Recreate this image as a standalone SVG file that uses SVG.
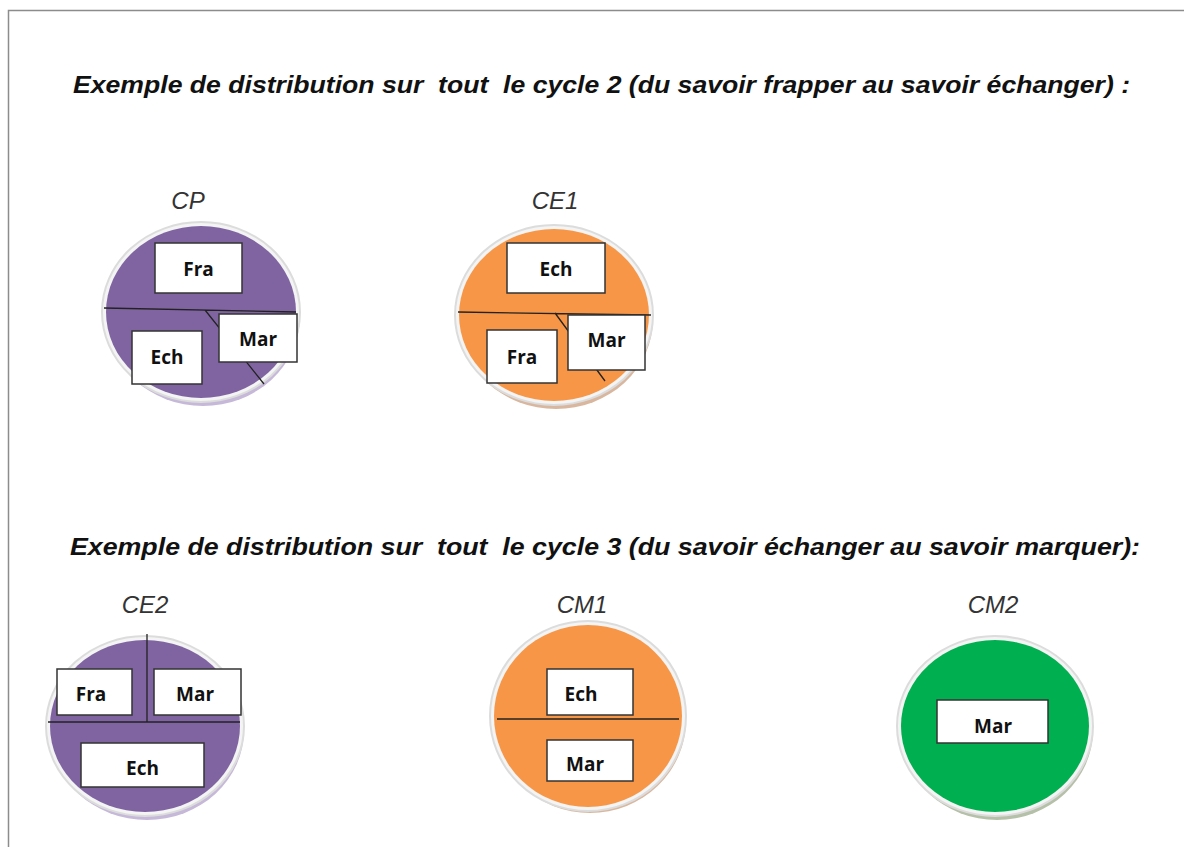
<svg xmlns="http://www.w3.org/2000/svg" width="1184" height="847" viewBox="0 0 1184 847">
  <style>
    .title { font-family: "Liberation Sans", Arial, sans-serif; font-size: 23px; font-weight: bold; font-style: italic; fill: #111; white-space: pre; }
    .lvl { font-family: "Liberation Sans", Arial, sans-serif; font-size: 24px; font-style: italic; fill: #333; text-anchor: middle; }
    .box { fill: #fff; stroke: #333; stroke-width: 1.5; }
    .lbl { font-family: "Open Sans", "Liberation Sans", sans-serif; font-size: 19px; font-weight: bold; fill: #111; text-anchor: middle; dominant-baseline: central; }
    .rim { fill: #f4f4f4; stroke: #dcdcdc; stroke-width: 2; }
    .cut { stroke: #222; stroke-width: 1.3; fill: none; }
    .purple { fill: #8064A2; }
    .orange { fill: #F79646; }
    .green { fill: #00B050; }
    .sh-purple { fill: #c6b8d8; }
    .sh-orange { fill: #d9b79e; }
    .sh-green { fill: #b5c0a8; }
  </style>
  <rect width="1184" height="847" fill="#fff"/>
  <!-- page frame -->
  <path d="M8.5 847 V10.5 H1184" fill="none" stroke="#8c8c8c" stroke-width="1.5"/>

  <text class="title" x="73" y="93" textLength="1057" lengthAdjust="spacingAndGlyphs" xml:space="preserve">Exemple de distribution sur  tout  le cycle 2 (du savoir frapper au savoir échanger) :</text>
  <text class="title" x="70" y="555" textLength="1070" lengthAdjust="spacingAndGlyphs" xml:space="preserve">Exemple de distribution sur  tout  le cycle 3 (du savoir échanger au savoir marquer):</text>

  <!-- CP -->
  <g id="cp">
    <text class="lvl" x="188" y="209">CP</text>
    <ellipse class="sh-purple" cx="203" cy="316" rx="97" ry="90"/>
    <ellipse class="rim" cx="201" cy="312" rx="99" ry="90"/>
    <ellipse class="purple" cx="201" cy="312" rx="95" ry="86"/>
    <path class="cut" d="M104 308 L296 312 M205 310 L264 384"/>
    <rect class="box" x="155" y="243" width="87" height="50"/>
    <text class="lbl" x="198.5" y="269">Fra</text>
    <rect class="box" x="219" y="314" width="78" height="48"/>
    <text class="lbl" x="258" y="339">Mar</text>
    <rect class="box" x="132" y="331" width="70" height="53"/>
    <text class="lbl" x="167" y="357">Ech</text>
  </g>

  <!-- CE1 -->
  <g id="ce1">
    <text class="lvl" x="555" y="209">CE1</text>
    <ellipse class="sh-orange" cx="556" cy="319" rx="97" ry="90"/>
    <ellipse class="rim" cx="554" cy="315" rx="99" ry="90"/>
    <ellipse class="orange" cx="554" cy="315" rx="95" ry="86"/>
    <path class="cut" d="M458 312 L651 315 M555 313 L605 381"/>
    <rect class="box" x="507" y="243" width="98" height="50"/>
    <text class="lbl" x="556" y="269">Ech</text>
    <rect class="box" x="568" y="315" width="77" height="55"/>
    <text class="lbl" x="606.5" y="340">Mar</text>
    <rect class="box" x="487" y="330" width="70" height="53"/>
    <text class="lbl" x="522" y="357">Fra</text>
  </g>

  <!-- CE2 -->
  <g id="ce2">
    <text class="lvl" x="145" y="613">CE2</text>
    <ellipse class="sh-purple" cx="147" cy="730" rx="97" ry="90"/>
    <ellipse class="rim" cx="145" cy="726" rx="99" ry="90"/>
    <ellipse class="purple" cx="145" cy="726" rx="95" ry="86"/>
    <path class="cut" d="M147 634 L147 722 M48 722 L240 722"/>
    <rect class="box" x="57" y="669" width="75" height="46"/>
    <text class="lbl" x="91" y="694">Fra</text>
    <rect class="box" x="154" y="669" width="87" height="46"/>
    <text class="lbl" x="195" y="694">Mar</text>
    <rect class="box" x="81" y="743" width="123" height="44"/>
    <text class="lbl" x="142.5" y="768">Ech</text>
  </g>

  <!-- CM1 -->
  <g id="cm1">
    <text class="lvl" x="582" y="613">CM1</text>
    <ellipse class="sh-orange" cx="590" cy="720" rx="96" ry="93"/>
    <ellipse class="rim" cx="588" cy="716" rx="98" ry="95"/>
    <ellipse class="orange" cx="588" cy="716" rx="94" ry="91"/>
    <path class="cut" d="M497 719 L679 719"/>
    <rect class="box" x="547" y="669" width="86" height="46"/>
    <text class="lbl" x="581" y="694">Ech</text>
    <rect class="box" x="547" y="740" width="86" height="41"/>
    <text class="lbl" x="585" y="764">Mar</text>
  </g>

  <!-- CM2 -->
  <g id="cm2">
    <text class="lvl" x="993" y="613">CM2</text>
    <ellipse class="sh-green" cx="997" cy="730" rx="96" ry="90"/>
    <ellipse class="rim" cx="995" cy="726" rx="98" ry="90"/>
    <ellipse class="green" cx="995" cy="726" rx="94" ry="86"/>
    <rect class="box" x="937" y="700" width="111" height="43"/>
    <text class="lbl" x="993" y="726">Mar</text>
  </g>
</svg>
